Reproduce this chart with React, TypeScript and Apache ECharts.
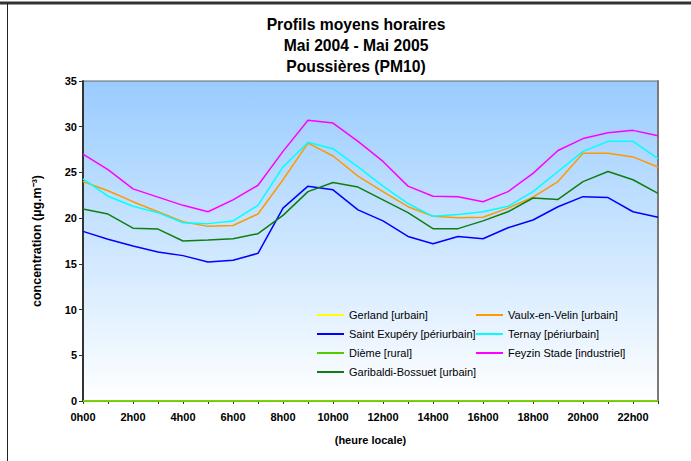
import React, { useEffect, useRef } from "react";
import * as echarts from "echarts";

const hours = ["0h00","1h00","2h00","3h00","4h00","5h00","6h00","7h00","8h00","9h00","10h00","11h00","12h00","13h00","14h00","15h00","16h00","17h00","18h00","19h00","20h00","21h00","22h00","23h00"];

const seriesNames = [
  "Gerland [urbain]",
  "Vaulx-en-Velin [urbain]",
  "Saint Exupéry [périurbain]",
  "Ternay [périurbain]",
  "Dième [rural]",
  "Feyzin Stade [industriel]",
  "Garibaldi-Bossuet [urbain]",
];

const gerland = [0,0,0,0,0,0,0,0,0,0,0,0,0,0,0,0,0,0,0,0,0,0,0,0];
const vaulx = [24.0,23.0,21.8,20.7,19.6,19.1,19.2,20.45,24.2,28.2,26.8,24.6,22.9,21.25,20.2,20.05,20.1,21.1,22.3,24.0,27.1,27.1,26.7,25.6];
const stExupery = [18.55,17.7,16.95,16.3,15.9,15.2,15.4,16.15,21.1,23.5,23.1,20.9,19.7,18.0,17.2,18.0,17.75,18.95,19.8,21.25,22.35,22.25,20.7,20.1];
const ternay = [24.3,22.4,21.3,20.6,19.5,19.4,19.7,21.4,25.6,28.3,27.6,25.6,23.5,21.6,20.2,20.4,20.7,21.3,22.9,25.1,27.3,28.4,28.4,26.5];
const dieme = [0,0,0,0,0,0,0,0,0,0,0,0,0,0,0,0,0,0,0,0,0,0,0,0];
const feyzin = [27.0,25.3,23.2,22.3,21.4,20.7,22.0,23.6,27.3,30.7,30.4,28.4,26.2,23.5,22.4,22.35,21.8,22.9,24.9,27.4,28.7,29.35,29.6,29.0];
const garibaldi = [21.0,20.45,18.9,18.8,17.5,17.6,17.75,18.3,20.3,22.9,23.9,23.4,22.0,20.6,18.85,18.85,19.7,20.7,22.2,22.05,24.0,25.1,24.2,22.7];

const seriesData = [gerland, vaulx, stExupery, ternay, dieme, feyzin, garibaldi];
const seriesColors = ["#ffff00", "#ff9900", "#0000ff", "#00ffff", "#55cc00", "#ff00ff", "#0e7f0e"];

const FONT = "'Liberation Sans', Arial, sans-serif";

export default function App() {
  const ref = useRef<HTMLDivElement>(null);
  useEffect(() => {
    if (!ref.current) return;
    const chart = echarts.init(ref.current, null, { renderer: "svg" });
    const legendText = { fontSize: 11, fontFamily: FONT, color: "#000", lineHeight: 14 };
    const legendCommon = {
      orient: "vertical",
      top: 308,
      icon: "rect",
      itemWidth: 27,
      itemHeight: 2,
      itemGap: 5,
      padding: 0,
      textStyle: legendText,
    };
    chart.setOption({
      animation: false,
      backgroundColor: "#ffffff",
      title: {
        text: "Profils moyens horaires\nMai 2004 - Mai 2005\nPoussières (PM10)",
        left: 351,
        textAlign: "center",
        top: 9,
        textStyle: { fontSize: 15.7, fontWeight: "bold", fontFamily: FONT, color: "#000", lineHeight: 21 },
      },
      graphic: [
        { type: "line", shape: { x1: 0, y1: 3, x2: 691, y2: 3 }, style: { stroke: "#333", lineWidth: 3 } },
        { type: "line", shape: { x1: 7.5, y1: 3, x2: 7.5, y2: 461 }, style: { stroke: "#222", lineWidth: 1 } },
      ],
      legend: [
        { ...legendCommon, left: 317, data: [seriesNames[0], seriesNames[2], seriesNames[4], seriesNames[6]] },
        { ...legendCommon, left: 476, data: [seriesNames[1], seriesNames[3], seriesNames[5]] },
      ],
      grid: {
        left: 83,
        right: 33,
        top: 81,
        bottom: 60,
        show: true,
        borderColor: "#666",
        borderWidth: 1,
        backgroundColor: new echarts.graphic.LinearGradient(0, 0, 0, 1, [
          { offset: 0, color: "#99ccff" },
          { offset: 1, color: "#ffffff" },
        ]),
      },
      xAxis: {
        type: "category",
        data: hours,
        boundaryGap: false,
        axisLine: { lineStyle: { color: "#333", width: 1 } },
        axisTick: { show: true, interval: 0, length: 3, lineStyle: { color: "#333" } },
        axisLabel: { interval: 1, fontWeight: "bold", fontSize: 11, color: "#000", margin: 10, fontFamily: FONT },
        name: "(heure locale)",
        nameLocation: "middle",
        nameGap: 33,
        nameTextStyle: { fontWeight: "bold", fontSize: 11, color: "#000", fontFamily: FONT },
        splitLine: { show: false },
      },
      yAxis: [
        {
          type: "value",
          min: 0,
          max: 35,
          interval: 5,
          splitLine: { show: false },
          axisLine: { show: true, lineStyle: { color: "#333", width: 2 } },
          axisTick: { show: true, length: 4, lineStyle: { color: "#333" } },
          axisLabel: { fontWeight: "bold", fontSize: 11, color: "#000", margin: 6, fontFamily: FONT },
          name: "concentration (µg.m⁻³)",
          nameLocation: "middle",
          nameRotate: 90,
          nameGap: 40,
          nameTextStyle: { fontWeight: "bold", fontSize: 12.5, color: "#000", fontFamily: FONT },
        },
        {
          type: "value",
          position: "right",
          min: 0,
          max: 35,
          interval: 5,
          splitLine: { show: false },
          axisLine: { show: true, lineStyle: { color: "#7a7a7a", width: 2 } },
          axisTick: { show: false },
          axisLabel: { show: false },
        },
      ],
      series: seriesNames.map((name, i) => ({
        name,
        type: "line",
        data: seriesData[i],
        symbol: "none",
        yAxisIndex: 0,
        lineStyle: { color: seriesColors[i], width: 1.5 },
        itemStyle: { color: seriesColors[i] },
        clip: false,
      })),
    });
    return () => chart.dispose();
  }, []);
  return <div ref={ref} style={{ position: "absolute", left: 0, top: 0, width: 691, height: 461 }} />;
}
